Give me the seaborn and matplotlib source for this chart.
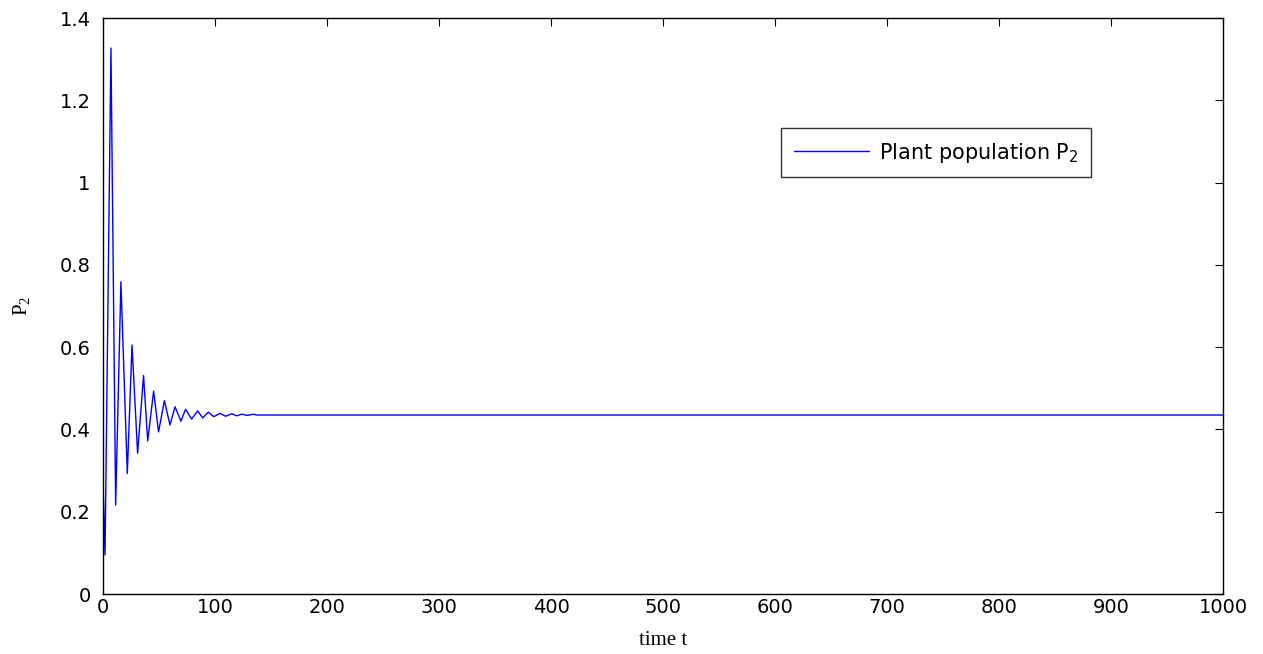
import matplotlib
matplotlib.use("Agg")
import matplotlib.pyplot as plt
import seaborn as sns
import pandas as pd

# Data (time t, plant population P2)
t_values = [0, 1.8, 7.1, 11.3, 16.0, 21.7, 25.9, 30.9, 36.2, 39.9, 45.2, 49.6,
            54.8, 59.8, 64.3, 69.6, 73.7, 79.1, 84.5, 89.0, 94.0, 99.0, 104.5,
            109.5, 114.9, 119.5, 123.8, 129.0, 134.2, 137.0, 1000.0]
p2_values = [0.27, 0.095, 1.327, 0.216, 0.759, 0.293, 0.605, 0.342, 0.531, 0.372,
             0.493, 0.394, 0.470, 0.411, 0.455, 0.420, 0.449, 0.425, 0.445, 0.428,
             0.442, 0.431, 0.439, 0.432, 0.438, 0.433, 0.437, 0.434, 0.437, 0.435,
             0.435]
series_label = "Plant population P$_2$"
x_ticks = [0, 100, 200, 300, 400, 500, 600, 700, 800, 900, 1000]
y_ticks = [0, 0.2, 0.4, 0.6, 0.8, 1.0, 1.2, 1.4]
y_tick_labels = ["0", "0.2", "0.4", "0.6", "0.8", "1", "1.2", "1.4"]

sns.set_theme(style="white")
plt.rcParams["font.family"] = ["DejaVu Sans"]
plt.rcParams["mathtext.default"] = "regular"
plt.rcParams["text.color"] = "black"
plt.rcParams["axes.labelcolor"] = "black"

df = pd.DataFrame({"t": t_values, "P2": p2_values})

fig = plt.figure(figsize=(12.63, 6.54), dpi=100)
ax = fig.add_axes([103 / 1263, 1 - 594 / 654, 1120 / 1263, 576 / 654])

sns.lineplot(data=df, x="t", y="P2", ax=ax, color="#0000ff", linewidth=1.0,
             estimator=None, label=series_label)

ax.set_xlim(0, 1000)
ax.set_ylim(0, 1.4)
ax.set_xticks(x_ticks)
ax.set_xticklabels([str(v) for v in x_ticks])
ax.set_yticks(y_ticks)
ax.set_yticklabels(y_tick_labels)
ax.tick_params(direction="in", length=6, width=0.8, top=True, right=True,
               labelsize=14, colors="black")
ax.tick_params(axis="x", pad=3)
ax.tick_params(axis="y", pad=9)
for s in ax.spines.values():
    s.set_visible(True)
    s.set_color("black")
    s.set_linewidth(1.0)

ax.set_xlabel("time t", fontfamily="Liberation Serif", fontsize=15, labelpad=10,
              color="black")
ax.set_ylabel("P$_2$", fontfamily="Liberation Serif", fontsize=15, labelpad=20,
              color="black")

leg = ax.legend(loc="upper left", bbox_to_anchor=(0.6054, 0.809), frameon=True,
                fancybox=False, edgecolor="black", fontsize=15,
                handlelength=3.6, borderpad=0.6, handletextpad=0.5,
                borderaxespad=0)
leg.get_frame().set_linewidth(1.0)
for txt in leg.get_texts():
    txt.set_color("black")

fig.savefig("out.png", dpi=100)
